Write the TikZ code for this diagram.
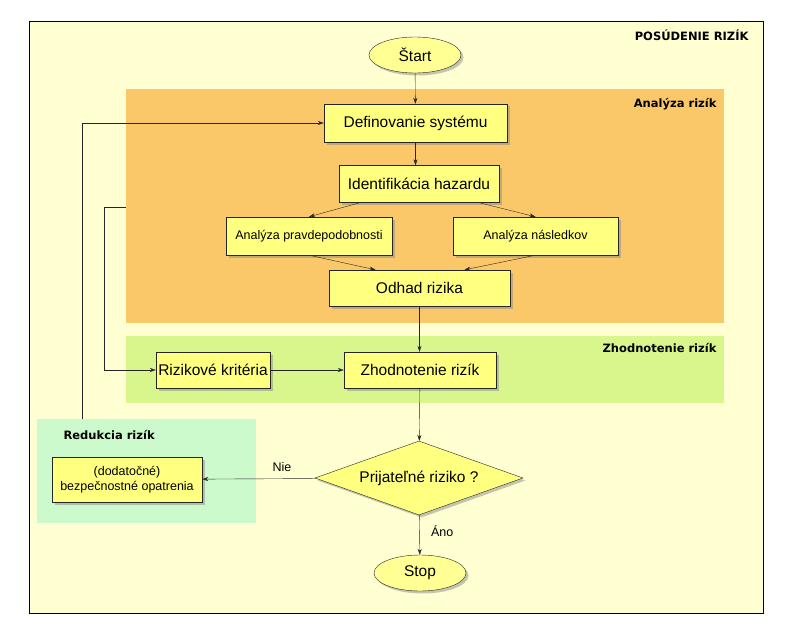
\documentclass[tikz,border=0pt]{standalone}
\usepackage{fontspec}
\setmainfont{Liberation Sans}
\newfontfamily\headfont{DejaVu Sans}
\usetikzlibrary{shapes.geometric,shadows,arrows.meta}
\definecolor{outer}{RGB}{255,255,210}
\definecolor{analyza}{RGB}{251,200,105}
\definecolor{zhodn}{RGB}{216,246,140}
\definecolor{reduk}{RGB}{204,250,204}
\definecolor{boxyellow}{RGB}{255,255,128}
\tikzset{
  box/.style={draw=black!85, fill=boxyellow, drop shadow={shadow xshift=2.5pt, shadow yshift=-2.5pt, fill=black!45},
    font=\fontsize{15.5}{18}\selectfont, inner sep=2pt},
  sbox/.style={box, font=\fontsize{12.5}{15.5}\selectfont},
  ell/.style={box, ellipse, minimum width=92pt, minimum height=36pt, fill=boxyellow!85!white},
  arr/.style={-{Stealth[length=6pt,width=4pt]}, draw=black!85},
  head/.style={font=\headfont\bfseries\fontsize{11.5}{13}\selectfont}
}
\begin{document}
\begin{tikzpicture}[x=1pt,y=-1pt]
    \useasboundingbox (0,0) rectangle (796,634);
    % regions
    \draw [fill=outer] (29,21) rectangle (763,613);
    \fill [analyza] (126,89) rectangle (724,323);
    \fill [zhodn] (126,336) rectangle (724,403);
    \fill [reduk] (37,419) rectangle (256,523);
    \node [head, anchor=east] (posud) at (752,35) {POSÚDENIE RIZÍK};
    \node [head, anchor=east] (analtit) at (720,104) {Analýza rizík};
    \node [head, anchor=east] (zhodtit) at (720,348) {Zhodnotenie rizík};
    \node [head, anchor=west] (redtit) at (60,435) {Redukcia rizík};
    % nodes
    \node [ell] (start) at (415,55) {Štart};
    \node [box, minimum width=183pt, minimum height=38pt] (def) at (415.5,123) {Definovanie systému};
    \node [box, minimum width=160pt, minimum height=37pt] (ident) at (419,184) {Identifikácia hazardu};
    \node [sbox, minimum width=166pt, minimum height=38pt] (pravd) at (309,236) {Analýza pravdepodobnosti};
    \node [sbox, minimum width=165pt, minimum height=38pt] (nasl) at (535.5,236) {Analýza následkov};
    \node [box, minimum width=181pt, minimum height=36pt] (odhad) at (419.5,288) {Odhad rizika};
    \node [box, minimum width=114pt, minimum height=36pt, inner sep=0pt] (krit) at (213,370) {Rizikové kritéria};
    \node [box, minimum width=152pt, minimum height=36pt] (zhod) at (420,370) {Zhodnotenie rizík};
    \node [box, diamond, aspect=2.8, minimum width=208pt, minimum height=74pt, inner sep=0pt] (prij) at (419,478) {Prijateľné riziko ?};
    \node [sbox, minimum width=150pt, minimum height=45pt, align=center] (opat) at (127,479.5) {(dodatočné)\\bezpečnostné opatrenia};
    \node [ell] (stop) at (420,573) {Stop};
    \coordinate (redtop) at (82,419);
    \coordinate (anaL) at (126,207);
    \coordinate (turn) at (104,207);
    % connectors
    \draw [arr] (start) -- (def);
    \draw [arr] (def) -- (def |- ident.north);
    \draw [arr] ([xshift=21pt]ident.south west) -- (pravd.north);
    \draw [arr] ([xshift=-20pt]ident.south east) -- (nasl.north);
    \draw [arr] (pravd.south) -- ([xshift=-44pt]odhad.north);
    \draw [arr] (nasl.south) -- ([xshift=45pt]odhad.north);
    \draw [arr] (odhad) -- (odhad |- zhod.north);
    \draw [arr] (krit) -- (zhod);
    \draw [arr] (zhod) -- (prij);
    \draw [arr] (prij) -- node [pos=0.4, right=8pt, font=\fontsize{12.5}{14}\selectfont] {Áno} (stop);
    \draw [arr] (prij) -- node [pos=0.3, above=4pt, font=\fontsize{12.5}{14}\selectfont] {Nie} (opat);
    \draw [arr] (redtop) |- (def);
    \draw [arr] (anaL) -- (turn) |- (krit);
\end{tikzpicture}
\end{document}
